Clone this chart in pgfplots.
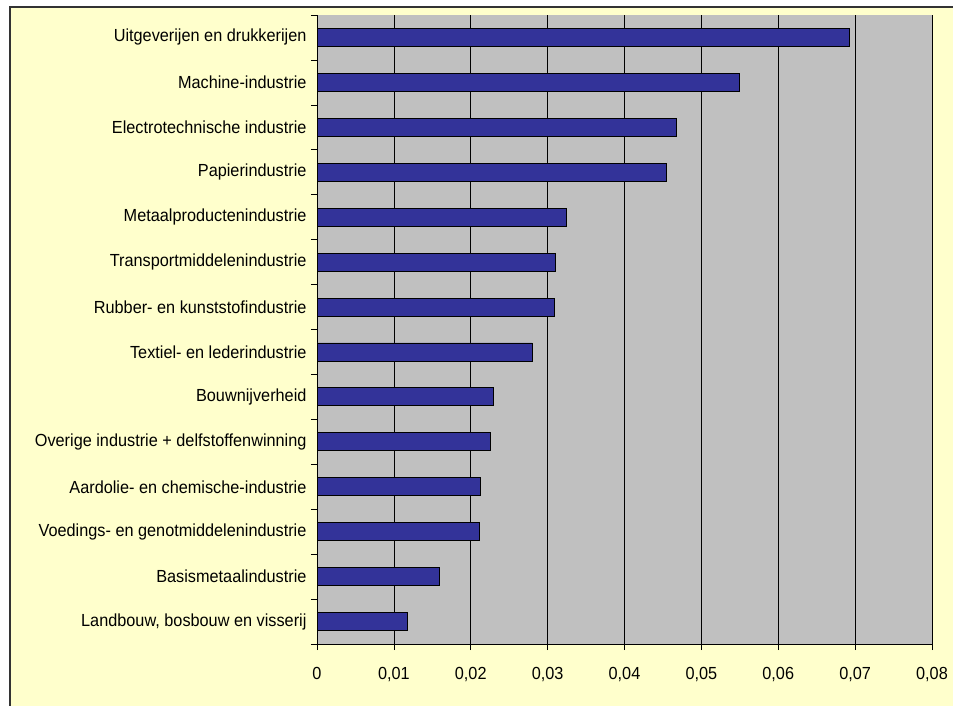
\documentclass[border=0pt]{standalone}
\usepackage{fontspec}
\setmainfont{Liberation Sans}[FakeStretch=0.93]
\usepackage{pgfplots}
\pgfplotsset{compat=1.18}
\definecolor{bgyellow}{HTML}{FFFFCC}
\definecolor{plotgray}{HTML}{C0C0C0}
\definecolor{barblue}{HTML}{333399}
\begin{document}
\begin{tikzpicture}[x=1pt,y=1pt]
\useasboundingbox (0,0) rectangle (953,705);
\clip (0,0) rectangle (953,705);
\fill[white] (0,0) rectangle (953,705);
\filldraw[fill=bgyellow, draw=black!80, line width=1.5pt] (10,-10) rectangle (965,698);
\begin{axis}[
  at={(317pt,61pt)}, anchor=south west,
  scale only axis, width=615pt, height=629pt,
  xbar, bar width=18pt,
  xmin=0, xmax=0.08, ymin=0.5, ymax=14.5,
  scaled x ticks=false,
  axis background/.style={fill=plotgray},
  axis x line*=bottom, axis y line*=left,
  axis line style={-, black, line width=0.6pt},
  xtick={0,0.01,0.02,0.03,0.04,0.05,0.06,0.07,0.08},
  xticklabels={0,{0,01},{0,02},{0,03},{0,04},{0,05},{0,06},{0,07},{0,08}},
  xmajorgrids, major grid style={black, line width=0.6pt},
  ytick={1,...,14},
  yticklabels={{Landbouw, bosbouw en visserij},Basismetaalindustrie,Voedings- en genotmiddelenindustrie,Aardolie- en chemische-industrie,Overige industrie + delfstoffenwinning,Bouwnijverheid,Textiel- en lederindustrie,Rubber- en kunststofindustrie,Transportmiddelenindustrie,Metaalproductenindustrie,Papierindustrie,Electrotechnische industrie,Machine-industrie,Uitgeverijen en drukkerijen},
  minor ytick={0.5,1.5,2.5,3.5,4.5,5.5,6.5,7.5,8.5,9.5,10.5,11.5,12.5,13.5,14.5},
  tick align=outside,
  major tick length=6pt, minor tick length=6pt,
  ytick style={draw=none},
  minor y tick style={draw=black, line width=0.6pt},
  xtick style={black, line width=0.6pt},
  y tick label style={font=\fontsize{17.5}{19}\selectfont, xshift=-1pt},
  x tick label style={font=\fontsize{17.5}{19}\selectfont, yshift=-14pt},
]
\addplot[fill=barblue, draw=black, line width=0.8pt] coordinates {
  (0.0118,1) (0.0159,2) (0.0211,3) (0.0213,4) (0.0225,5) (0.0229,6) (0.0280,7)
  (0.0309,8) (0.0310,9) (0.0325,10) (0.0455,11) (0.0468,12) (0.0549,13) (0.0692,14)
};
\end{axis}
\end{tikzpicture}
\end{document}
